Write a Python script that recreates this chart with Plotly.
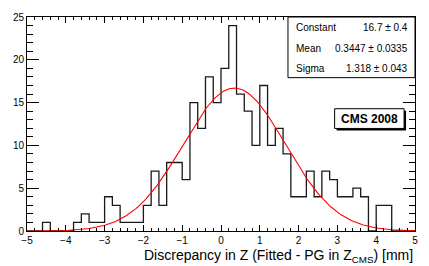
import numpy as np
import plotly.graph_objects as go

# ---- data ----
bin_start = -5.0
bin_width = 0.2
counts = [0, 0, 1, 0, 0, 0, 1, 2, 1, 1,
          4, 3, 1, 1, 1, 3, 7, 3, 8, 8,
          6, 15, 12, 18, 15, 19, 24, 16, 14, 10,
          17, 10, 12, 9, 4, 4, 7, 4, 7, 6,
          4, 4, 5, 4, 0, 3, 3, 0, 0, 0]
fit_constant = 16.7
fit_mean = 0.3447
fit_sigma = 1.318
stat_names = ["Constant", "Mean", "Sigma"]
stat_values = ["16.7 \u00b1 0.4", "0.3447 \u00b1 0.0335", "1.318 \u00b1 0.043"]
x_tick_vals = [-5, -4, -3, -2, -1, 0, 1, 2, 3, 4, 5]
y_tick_vals = [0, 5, 10, 15, 20, 25]

edges = bin_start + bin_width * np.arange(len(counts) + 1)
step_y = list(counts) + [counts[-1]]

xf = np.linspace(-5, 5, 400)
yf = fit_constant * np.exp(-0.5 * ((xf - fit_mean) / fit_sigma) ** 2)

FONT = "Liberation Sans, Arial, Helvetica, sans-serif"

fig = go.Figure()
fig.add_trace(go.Scatter(x=edges, y=step_y, mode="lines", line_shape="hv",
                         line=dict(color="#1a1a1a", width=1.3), hoverinfo="skip"))
fig.add_trace(go.Scatter(x=xf, y=yf, mode="lines",
                         line=dict(color="#ff0000", width=1.1), hoverinfo="skip"))

axis_common = dict(showgrid=False, zeroline=False, showline=True, linecolor="black",
                   linewidth=1, mirror="allticks", ticks="inside", tickcolor="black",
                   tickfont=dict(family=FONT, size=10, color="black"))

fig.update_xaxes(range=[-5, 5], tickvals=x_tick_vals, ticklen=6, tickwidth=1,
                 minor=dict(dtick=0.2, tick0=-5, ticks="inside", ticklen=3,
                            tickcolor="black", tickwidth=1),
                 **axis_common)
fig.update_yaxes(range=[0, 25], tickvals=y_tick_vals, ticklen=12, tickwidth=1,
                 minor=dict(dtick=1, tick0=0, ticks="inside", ticklen=6,
                            tickcolor="black", tickwidth=1),
                 **axis_common)

L, R, T, B = 27, 11, 14, 35
W, H = 429, 266
pw, ph = W - L - R, H - T - B

def px(xp):
    return (xp - L) / pw

def py(yp):
    return (H - B - yp) / ph

shapes = []
# stats box
shapes.append(dict(type="rect", xref="paper", yref="paper",
                   x0=px(290), x1=px(418), y0=py(75.5), y1=py(14),
                   line=dict(color="black", width=1), fillcolor="white", layer="above"))
# CMS 2008 box shadow and box
shapes.append(dict(type="rect", xref="paper", yref="paper",
                   x0=px(339), x1=px(409), y0=py(129), y1=py(109),
                   line=dict(color="black", width=0), fillcolor="black", layer="above"))
shapes.append(dict(type="rect", xref="paper", yref="paper",
                   x0=px(337), x1=px(407), y0=py(127), y1=py(107),
                   line=dict(color="black", width=1), fillcolor="white", layer="above"))

annotations = []
row_y = [24.5, 45.5, 66]
for name, val, yy in zip(stat_names, stat_values, row_y):
    annotations.append(dict(xref="paper", yref="paper", x=px(296), y=py(yy),
                            xanchor="left", yanchor="middle", showarrow=False,
                            text=name, font=dict(family=FONT, size=10, color="black")))
    annotations.append(dict(xref="paper", yref="paper", x=px(413), y=py(yy),
                            xanchor="right", yanchor="middle", showarrow=False,
                            text=val, font=dict(family=FONT, size=10, color="black")))
annotations.append(dict(xref="paper", yref="paper", x=px(372), y=py(117.5),
                        xanchor="center", yanchor="middle", showarrow=False,
                        text="<b>CMS 2008</b>",
                        font=dict(family=FONT, size=12, color="black")))
annotations.append(dict(xref="paper", yref="paper", x=1.0, y=py(256),
                        xanchor="right", yanchor="middle", showarrow=False,
                        text="Discrepancy in Z (Fitted - PG in Z<sub>CMS</sub>) [mm]",
                        font=dict(family=FONT, size=14, color="black")))

fig.update_layout(width=W, height=H, margin=dict(l=L, r=R, t=T, b=B, pad=0),
                  plot_bgcolor="white", paper_bgcolor="white", showlegend=False,
                  shapes=shapes, annotations=annotations)

fig.write_html("out.html", config={"displayModeBar": False})
with open("out.html", "r", encoding="utf-8") as f:
    html = f.read()
html = html.replace("<head>", "<head><style>html,body{margin:0;padding:0;overflow:hidden;}</style>", 1)
with open("out.html", "w", encoding="utf-8") as f:
    f.write(html)
